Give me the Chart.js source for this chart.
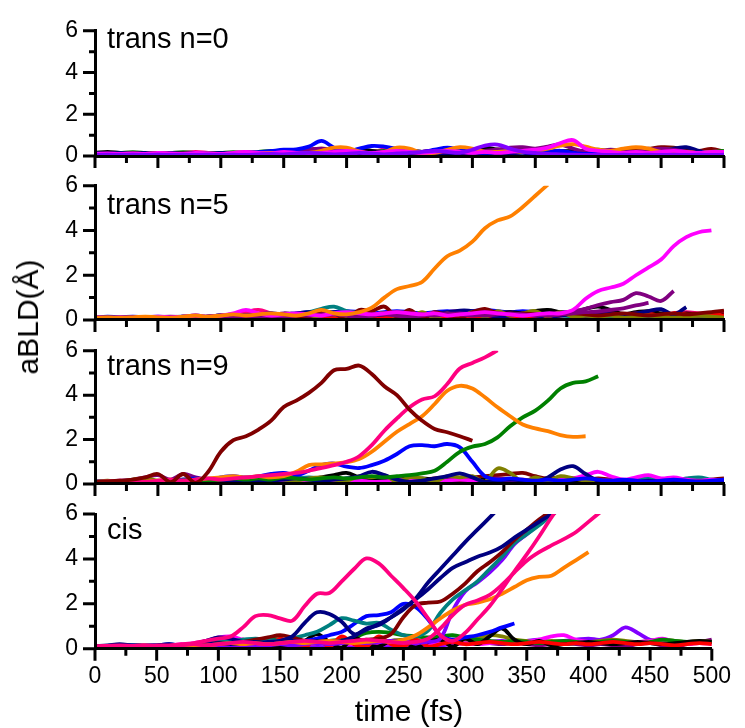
<!DOCTYPE html>
<html>
<head>
<meta charset="utf-8">
<script src="https://cdn.jsdelivr.net/npm/chart.js@4/dist/chart.umd.min.js"></script>
<style>
  html, body { margin: 0; padding: 0; background: #fff; }
  #wrap { position: relative; width: 745px; height: 728px; overflow: hidden;
          font-family: "Liberation Sans", Arial, sans-serif; color: #000; }
  #wrap canvas { position: absolute; left: 0; top: 0; }
  .panel-label { position: absolute; left: 107px; font-size: 29px; line-height: 1; white-space: nowrap; }
  .axis-title { position: absolute; font-size: 30px; line-height: 1; white-space: nowrap; }
</style>
</head>
<body>
<div id="wrap">
  <canvas id="p0" width="745" height="728"></canvas>
  <canvas id="p1" width="745" height="728"></canvas>
  <canvas id="p2" width="745" height="728"></canvas>
  <canvas id="p3" width="745" height="728"></canvas>
  <div class="panel-label" style="top:24px">trans n=0</div>
  <div class="panel-label" style="top:190px">trans n=5</div>
  <div class="panel-label" style="top:351px">trans n=9</div>
  <div class="panel-label" style="top:515px">cis</div>
  <div class="axis-title" style="left:409px; top:696px; transform:translateX(-50%);">time (fs)</div>
  <div class="axis-title" style="left:28px; top:317px; transform:translate(-50%,-50%) rotate(-90deg);">aBLD(Å)</div>
</div>
<script>
// time grid shared by every trajectory (fs)
const times = [0,10,20,30,40,50,60,70,80,90,100,110,120,130,140,150,160,170,180,190,200,
  210,220,230,240,250,260,270,280,290,300,310,320,330,340,350,360,370,380,390,400,
  410,420,430,440,450,460,470,480,490,500];
const xTickStep = 25;
const yTickStep = 1;

// Origin-style palette
const BLACK = '#000000', RED = '#FF0000', BLUE = '#0000FF', MAGENTA = '#FF00FF',
      OLIVE = '#808000', NAVY = '#000080', PURPLE = '#800080', MAROON = '#800000',
      TEAL = '#008080', GREEN = '#008000', ORANGE = '#FF8000', VIOLET = '#8000FF',
      PINK = '#FF0080';

// ---- trans n=0 ----
const n0Blue = [0.12,0.1,0.12,0.1,0.12,0.1,0.12,0.1,0.12,0.14,0.12,0.14,0.16,0.18,0.24,0.3,0.32,0.45,0.72,0.4,0.22,0.35,0.48,0.45,0.35,0.28,0.2,0.3,0.4,0.3,0.2,0.15,0.2,0.25,0.2,0.15,0.2,0.25,0.15,0.1,0.15,0.2,0.15,0.1,0.15,0.2,0.15,0.1,0.15,0.2,0.15];
const n0Orange = [0.08,0.1,0.08,0.06,0.1,0.12,0.1,0.08,0.1,0.12,0.1,0.12,0.1,0.12,0.15,0.12,0.1,0.15,0.25,0.4,0.4,0.22,0.1,0.2,0.4,0.35,0.15,0.15,0.3,0.42,0.35,0.2,0.2,0.25,0.2,0.25,0.35,0.5,0.57,0.45,0.3,0.25,0.35,0.42,0.35,0.2,0.15,0.2,0.15,0.2,0.15];
const n0Magenta = [0.1,0.12,0.1,0.12,0.1,0.15,0.12,0.1,0.15,0.12,0.1,0.15,0.2,0.15,0.12,0.2,0.15,0.12,0.15,0.2,0.25,0.2,0.15,0.2,0.25,0.2,0.15,0.2,0.25,0.2,0.15,0.2,0.15,0.2,0.25,0.3,0.4,0.62,0.76,0.35,0.25,0.2,0.15,0.2,0.15,0.2,0.25,0.2,0.15,0.2,0.2];
const n0Violet = [0.05,0.06,0.05,0.06,0.05,0.06,0.05,0.06,0.05,0.06,0.05,0.06,0.05,0.08,0.1,0.08,0.12,0.15,0.12,0.08,0.1,0.15,0.12,0.08,0.12,0.15,0.2,0.25,0.2,0.15,0.3,0.5,0.55,0.35,0.2,0.15,0.1,0.08,0.06,0.05,0.06,0.05,0.06,0.05,0.06,0.05,0.06,0.05,0.06,0.05,0.06];
const n0Purple = [0.1,0.08,0.1,0.12,0.1,0.08,0.1,0.12,0.1,0.08,0.1,0.12,0.1,0.15,0.2,0.25,0.2,0.3,0.35,0.3,0.25,0.2,0.15,0.2,0.25,0.2,0.15,0.2,0.2,0.25,0.2,0.25,0.3,0.4,0.42,0.35,0.45,0.55,0.35,0.2,0.25,0.3,0.25,0.2,0.3,0.35,0.3,0.2,0.15,0.2,0.15];
const n0Navy = [0.1,0.12,0.1,0.08,0.1,0.12,0.1,0.08,0.1,0.12,0.1,0.08,0.1,0.12,0.1,0.12,0.15,0.12,0.1,0.15,0.12,0.1,0.15,0.2,0.15,0.1,0.12,0.15,0.12,0.1,0.15,0.12,0.1,0.12,0.15,0.1,0.08,0.1,0.12,0.1,0.12,0.1,0.08,0.12,0.1,0.15,0.35,0.42,0.25,0.1,0.12];
const n0Green = [0.15,0.12,0.15,0.18,0.15,0.12,0.15,0.18,0.15,0.12,0.15,0.18,0.15,0.2,0.25,0.2,0.25,0.3,0.2,0.25,0.3,0.25,0.2,0.25,0.3,0.25,0.2,0.25,0.2,0.25,0.3,0.25,0.3,0.35,0.3,0.25,0.2,0.25,0.2,0.25,0.3,0.2,0.25,0.2,0.25,0.3,0.35,0.2,0.15,0.2,0.25];
const n0Black = [0.15,0.2,0.15,0.12,0.15,0.12,0.15,0.12,0.15,0.12,0.15,0.12,0.15,0.12,0.2,0.15,0.2,0.25,0.2,0.15,0.2,0.3,0.25,0.15,0.2,0.15,0.2,0.25,0.3,0.25,0.3,0.4,0.3,0.2,0.25,0.2,0.15,0.2,0.25,0.2,0.15,0.2,0.15,0.2,0.15,0.2,0.25,0.2,0.15,0.2,0.15];
const n0Maroon = [0.1,0.12,0.15,0.12,0.1,0.12,0.15,0.12,0.1,0.12,0.15,0.12,0.1,0.15,0.2,0.25,0.2,0.3,0.35,0.3,0.2,0.25,0.2,0.15,0.2,0.25,0.2,0.15,0.2,0.25,0.2,0.15,0.2,0.15,0.2,0.25,0.2,0.15,0.2,0.25,0.2,0.15,0.2,0.3,0.35,0.42,0.4,0.3,0.25,0.34,0.2];
const n0Pink = [0.12,0.1,0.12,0.15,0.12,0.1,0.12,0.15,0.2,0.15,0.12,0.15,0.2,0.15,0.2,0.25,0.2,0.25,0.3,0.25,0.3,0.25,0.2,0.3,0.25,0.2,0.15,0.2,0.25,0.2,0.25,0.2,0.15,0.2,0.25,0.2,0.15,0.1,0.15,0.2,0.15,0.2,0.15,0.1,0.15,0.2,0.1,0.05,0.1,0.15,0.2];
const n0Red = [0.1,0.15,0.1,0.15,0.1,0.15,0.1,0.15,0.1,0.15,0.1,0.15,0.1,0.15,0.2,0.15,0.2,0.15,0.2,0.25,0.2,0.15,0.2,0.25,0.2,0.15,0.2,0.25,0.2,0.3,0.25,0.2,0.3,0.25,0.2,0.25,0.2,0.25,0.2,0.15,0.2,0.15,0.2,0.15,0.2,0.15,0.2,0.25,0.2,0.15,0.2];

// ---- trans n=5 ----
const n5Orange = [0.1,0.12,0.1,0.12,0.15,0.12,0.1,0.15,0.2,0.15,0.2,0.25,0.2,0.25,0.3,0.25,0.2,0.3,0.45,0.3,0.25,0.35,0.55,1.0,1.38,1.52,1.7,2.3,2.85,3.1,3.5,4.1,4.45,4.63,5.05,5.55,6.05,null,null,null,null,null,null,null,null,null,null,null,null,null,null];
const n5Magenta = [0.12,0.1,0.12,0.1,0.12,0.15,0.12,0.15,0.2,0.15,0.2,0.3,0.45,0.3,0.2,0.25,0.3,0.25,0.2,0.3,0.35,0.3,0.25,0.3,0.35,0.3,0.25,0.3,0.2,0.25,0.3,0.35,0.3,0.25,0.2,0.25,0.3,0.3,0.45,0.95,1.3,1.45,1.62,2.0,2.35,2.7,3.3,3.7,3.92,4.0,null];
const n5PurpleA = [0.1,0.12,0.1,0.12,0.1,0.12,0.15,0.12,0.1,0.15,0.2,0.15,0.2,0.25,0.2,0.3,0.25,0.2,0.25,0.3,0.25,0.2,0.25,0.3,0.35,0.3,0.25,0.2,0.25,0.3,0.25,0.2,0.25,0.3,0.25,0.2,0.25,0.3,0.4,0.5,0.67,0.8,0.9,1.2,1.05,0.85,1.3,null,null,null,null];
const n5PurpleB = [0.1,0.08,0.1,0.12,0.1,0.08,0.1,0.12,0.15,0.12,0.1,0.15,0.2,0.15,0.2,0.15,0.2,0.25,0.2,0.25,0.2,0.15,0.2,0.25,0.2,0.15,0.2,0.25,0.3,0.25,0.2,0.25,0.3,0.25,0.2,0.25,0.2,0.25,0.3,0.35,0.38,0.45,0.52,0.65,0.76,null,null,null,null,null,null];
const n5Navy = [0.08,0.1,0.08,0.1,0.12,0.1,0.12,0.15,0.12,0.15,0.2,0.15,0.2,0.25,0.3,0.25,0.3,0.35,0.3,0.35,0.3,0.25,0.2,0.25,0.3,0.2,0.15,0.25,0.35,0.42,0.4,0.25,0.15,0.2,0.25,0.2,0.15,0.2,0.25,0.2,0.25,0.3,0.25,0.3,0.4,0.48,0.25,0.58,null,null,null];
const n5Maroon = [0.05,0.08,0.05,0.06,0.05,0.08,0.05,0.06,0.08,0.05,0.1,0.06,0.08,0.1,0.08,0.1,0.05,0.15,0.35,0.3,0.02,0.45,0.4,0.6,0.15,0.45,0.07,0.35,0.2,0.08,0.35,0.5,0.3,0.25,0.3,0.25,0.2,0.25,0.3,0.25,0.2,0.25,0.3,0.25,0.2,0.25,0.3,0.25,0.3,0.35,0.42];
const n5Olive = [0.08,0.1,0.08,0.1,0.12,0.1,0.08,0.1,0.12,0.15,0.12,0.1,0.15,0.12,0.1,0.15,0.12,0.1,0.2,0.25,0.15,0.1,0.2,0.3,0.15,0.1,0.35,0.1,0.3,0.1,0.35,0.15,0.4,0.2,0.3,0.4,0.15,0.35,0.15,0.2,0.15,0.2,0.1,0.15,0.2,0.15,0.1,0.15,0.2,0.15,0.1];
const n5Black = [0.1,0.12,0.1,0.12,0.1,0.12,0.1,0.15,0.12,0.15,0.2,0.15,0.2,0.15,0.2,0.25,0.2,0.25,0.3,0.25,0.3,0.25,0.2,0.25,0.3,0.25,0.3,0.25,0.3,0.35,0.3,0.25,0.3,0.35,0.3,0.4,0.45,0.35,0.3,0.5,0.6,0.45,0.27,0.35,0.4,0.3,0.25,0.3,0.25,0.2,0.25];
const n5Red = [0.05,0.08,0.05,0.08,0.05,0.08,0.1,0.08,0.1,0.12,0.1,0.12,0.1,0.12,0.15,0.12,0.15,0.12,0.15,0.1,0.15,0.12,0.15,0.1,0.15,0.12,0.15,0.1,0.15,0.12,0.15,0.1,0.15,0.12,0.15,0.12,0.15,0.2,0.25,0.2,0.28,0.3,0.22,0.3,0.28,0.2,0.3,0.25,0.2,0.28,0.2];
const n5Teal = [0.1,0.12,0.1,0.12,0.1,0.12,0.1,0.12,0.15,0.12,0.15,0.2,0.15,0.2,0.25,0.2,0.25,0.35,0.5,0.6,0.4,0.3,0.25,0.3,0.35,0.3,0.25,0.3,0.25,0.2,0.25,0.2,0.15,0.2,0.15,0.2,0.15,0.2,0.15,0.1,0.15,0.1,0.15,0.1,0.15,0.12,0.1,0.15,0.1,0.15,0.12];
const n5Blue = [0.12,0.15,0.12,0.15,0.12,0.15,0.12,0.15,0.2,0.15,0.2,0.25,0.2,0.25,0.3,0.25,0.3,0.35,0.3,0.35,0.4,0.35,0.3,0.35,0.4,0.35,0.3,0.35,0.4,0.35,0.4,0.45,0.4,0.35,0.4,0.35,0.3,0.35,0.3,0.25,0.3,0.25,0.2,0.25,0.2,0.25,0.2,0.15,0.2,0.15,0.2];
const n5Pink = [0.1,0.08,0.1,0.12,0.1,0.08,0.1,0.12,0.1,0.15,0.12,0.2,0.35,0.45,0.3,0.2,0.15,0.2,0.25,0.2,0.15,0.2,0.25,0.3,0.25,0.2,0.25,0.3,0.35,0.4,0.3,0.25,0.3,0.35,0.3,0.25,0.2,0.3,0.35,0.3,0.25,0.2,0.25,0.3,0.25,0.2,0.3,0.35,0.3,0.25,0.3];

// ---- trans n=9 ----
const n9Maroon = [0.1,0.12,0.15,0.2,0.3,0.45,0.08,0.45,0.05,0.55,1.45,1.97,2.15,2.45,2.85,3.47,3.75,4.1,4.55,5.12,5.18,5.33,4.95,4.4,4.0,3.35,2.85,2.48,2.33,2.15,1.95,null,null,null,null,null,null,null,null,null,null,null,null,null,null,null,null,null,null,null,null];
const n9Pink = [0.1,0.12,0.15,0.12,0.1,0.15,0.2,0.15,0.2,0.25,0.2,0.25,0.3,0.35,0.4,0.45,0.5,0.6,0.72,0.85,1.0,1.25,1.75,2.4,2.95,3.45,3.8,3.95,4.5,5.2,5.45,5.7,6.02,null,null,null,null,null,null,null,null,null,null,null,null,null,null,null,null,null,null];
const n9Orange = [0.1,0.12,0.1,0.15,0.12,0.15,0.2,0.15,0.2,0.25,0.3,0.35,0.3,0.35,0.3,0.35,0.55,0.85,0.88,0.93,0.98,1.12,1.45,1.9,2.35,2.7,3.05,3.6,4.2,4.42,4.3,3.9,3.45,3.05,2.68,2.5,2.38,2.2,2.12,2.15,null,null,null,null,null,null,null,null,null,null,null];
const n9Green = [0.1,0.12,0.1,0.12,0.15,0.12,0.1,0.15,0.2,0.15,0.2,0.25,0.2,0.25,0.2,0.3,0.25,0.2,0.25,0.3,0.25,0.3,0.35,0.3,0.35,0.4,0.48,0.6,1.0,1.45,1.68,1.8,2.1,2.6,3.0,3.3,3.75,4.3,4.55,4.62,4.85,null,null,null,null,null,null,null,null,null,null];
const n9Blue = [0.12,0.1,0.12,0.15,0.12,0.1,0.15,0.2,0.25,0.2,0.3,0.35,0.3,0.35,0.45,0.5,0.4,0.6,0.85,0.92,0.78,0.72,0.85,1.05,1.35,1.7,1.75,1.7,1.8,1.65,1.0,0.35,0.2,0.25,0.2,0.15,0.2,0.15,0.2,0.25,0.2,0.15,0.2,0.15,0.1,0.15,0.2,0.15,0.1,0.15,0.2];
const n9Navy = [0.1,0.08,0.1,0.12,0.1,0.08,0.1,0.12,0.15,0.12,0.1,0.15,0.12,0.1,0.15,0.2,0.25,0.2,0.15,0.2,0.25,0.35,0.55,0.4,0.2,0.1,0.15,0.25,0.35,0.48,0.3,0.1,0.15,0.2,0.15,0.1,0.3,0.65,0.8,0.45,0.15,0.1,0.15,0.1,0.15,0.1,0.12,0.1,0.12,0.1,0.12];
const n9Olive = [0.1,0.15,0.1,0.2,0.25,0.15,0.1,0.2,0.15,0.1,0.2,0.25,0.15,0.2,0.3,0.2,0.15,0.25,0.3,0.2,0.15,0.35,0.3,0.4,0.1,0.3,0.25,0.1,0.35,0.3,0.35,0.1,0.7,0.5,0.1,0.3,0.15,0.35,0.25,0.15,0.1,0.15,0.1,0.12,0.1,0.12,0.1,0.12,0.1,0.12,0.1];
const n9Magenta = [0.05,0.08,0.05,0.1,0.08,0.05,0.1,0.08,0.1,0.12,0.1,0.08,0.1,0.12,0.1,0.15,0.1,0.12,0.15,0.1,0.12,0.15,0.1,0.12,0.15,0.2,0.15,0.1,0.15,0.2,0.15,0.1,0.15,0.2,0.15,0.1,0.15,0.2,0.25,0.4,0.55,0.35,0.2,0.3,0.4,0.25,0.3,0.2,0.15,0.2,0.15];
const n9Black = [0.08,0.1,0.08,0.1,0.08,0.1,0.12,0.1,0.12,0.1,0.12,0.15,0.12,0.1,0.15,0.12,0.15,0.2,0.3,0.4,0.5,0.3,0.15,0.2,0.15,0.2,0.25,0.2,0.15,0.2,0.15,0.2,0.15,0.1,0.15,0.1,0.15,0.1,0.15,0.2,0.15,0.1,0.15,0.1,0.12,0.1,0.12,0.1,0.12,0.1,0.12];
const n9Red = [0.05,0.08,0.1,0.08,0.05,0.08,0.1,0.08,0.05,0.08,0.1,0.12,0.1,0.08,0.1,0.12,0.15,0.12,0.1,0.15,0.12,0.1,0.15,0.12,0.1,0.15,0.2,0.15,0.1,0.15,0.12,0.15,0.1,0.15,0.2,0.15,0.1,0.15,0.2,0.15,0.2,0.1,0.15,0.1,0.05,0.1,0.15,0.1,0.12,0.1,0.15];
const n9Teal = [0.1,0.12,0.1,0.15,0.12,0.1,0.15,0.2,0.15,0.2,0.25,0.3,0.25,0.3,0.25,0.2,0.25,0.3,0.25,0.2,0.25,0.2,0.15,0.2,0.15,0.1,0.15,0.2,0.15,0.1,0.15,0.2,0.15,0.1,0.15,0.2,0.15,0.1,0.15,0.2,0.15,0.1,0.15,0.2,0.25,0.2,0.15,0.25,0.3,0.2,0.15];
const n9Purple = [0.1,0.12,0.15,0.2,0.3,0.4,0.2,0.45,0.3,0.2,0.25,0.3,0.25,0.2,0.25,0.3,0.25,0.2,0.25,0.2,0.15,0.2,0.25,0.2,0.15,0.2,0.15,0.1,0.15,0.2,0.15,0.2,0.25,0.2,0.15,0.2,0.15,0.1,0.15,0.1,0.15,0.2,0.15,0.1,0.15,0.1,0.15,0.1,0.12,0.1,0.12];
const n9MaroonB = [0.05,0.08,0.05,0.08,0.1,0.08,0.05,0.08,0.1,0.12,0.1,0.12,0.15,0.12,0.1,0.15,0.12,0.15,0.2,0.15,0.2,0.25,0.2,0.15,0.2,0.25,0.2,0.25,0.3,0.25,0.3,0.35,0.4,0.45,0.5,0.35,0.25,0.3,0.25,0.2,0.25,0.2,0.15,0.2,0.15,0.2,0.15,0.2,0.15,0.2,0.25];

// ---- cis ----
const cisPinkA = [0.1,0.12,0.1,0.12,0.15,0.12,0.15,0.2,0.25,0.35,0.45,0.54,0.95,1.45,1.5,1.35,1.25,1.9,2.45,2.48,3.0,3.55,4.02,3.8,3.25,2.7,2.1,1.35,0.6,0.35,0.7,1.3,1.9,2.65,3.45,4.2,5.0,5.85,6.6,null,null,null,null,null,null,null,null,null,null,null,null];
const cisPinkB = [0.1,0.12,0.15,0.12,0.1,0.15,0.12,0.15,0.2,0.15,0.2,0.25,0.3,0.25,0.2,0.25,0.3,0.35,0.3,0.25,0.3,0.35,0.4,0.35,0.3,0.25,0.3,0.45,0.9,1.5,1.95,2.15,2.4,2.85,3.4,3.92,4.3,4.6,4.88,5.2,5.65,6.1,null,null,null,null,null,null,null,null,null];
const cisNavyA = [0.12,0.15,0.2,0.15,0.12,0.15,0.2,0.15,0.2,0.35,0.5,0.45,0.3,0.25,0.3,0.35,0.55,1.15,1.62,1.55,1.2,0.65,0.85,1.1,1.4,1.75,2.25,2.95,3.55,4.15,4.75,5.3,5.85,6.4,null,null,null,null,null,null,null,null,null,null,null,null,null,null,null,null,null];
const cisNavyB = [0.1,0.08,0.1,0.12,0.1,0.12,0.15,0.12,0.15,0.2,0.25,0.2,0.25,0.3,0.25,0.3,0.35,0.3,0.35,0.3,0.35,0.55,0.9,1.05,1.4,1.8,2.2,2.65,3.15,3.6,3.85,4.1,4.28,4.55,4.95,5.3,5.65,6.0,6.4,null,null,null,null,null,null,null,null,null,null,null,null];
const cisMaroon = [0.1,0.12,0.1,0.12,0.15,0.12,0.15,0.12,0.15,0.2,0.25,0.2,0.3,0.4,0.5,0.6,0.5,0.35,0.3,0.35,0.3,0.35,0.4,0.45,0.65,1.4,1.95,2.05,2.1,2.45,2.9,3.45,3.85,4.3,4.85,5.3,5.75,6.15,null,null,null,null,null,null,null,null,null,null,null,null,null];
const cisTeal = [0.1,0.12,0.1,0.12,0.1,0.15,0.12,0.15,0.2,0.25,0.3,0.35,0.4,0.45,0.4,0.35,0.45,0.6,0.75,1.05,1.36,1.25,1.12,1.15,0.85,0.6,0.55,0.8,1.6,2.2,2.6,3.0,3.55,4.1,4.7,5.1,5.5,5.95,6.3,null,null,null,null,null,null,null,null,null,null,null,null];
const cisViolet = [0.05,0.08,0.05,0.08,0.1,0.08,0.05,0.08,0.1,0.12,0.1,0.12,0.15,0.12,0.15,0.2,0.15,0.2,0.25,0.2,0.25,0.3,0.25,0.3,0.35,0.3,0.25,0.3,0.45,1.7,2.55,2.95,3.4,3.95,4.65,5.1,5.55,6.05,null,null,null,null,null,null,null,null,null,null,null,null,null];
const cisBlue = [0.12,0.1,0.12,0.15,0.12,0.15,0.2,0.15,0.2,0.25,0.3,0.25,0.3,0.35,0.3,0.35,0.3,0.35,0.45,0.6,0.75,1.1,1.45,1.5,1.62,2.0,1.85,1.3,0.6,0.4,0.5,0.6,0.75,0.95,1.12,null,null,null,null,null,null,null,null,null,null,null,null,null,null,null,null];
const cisOrange = [0.08,0.1,0.12,0.1,0.08,0.1,0.12,0.15,0.12,0.15,0.2,0.25,0.2,0.25,0.2,0.25,0.3,0.25,0.3,0.35,0.3,0.25,0.3,0.35,0.3,0.4,0.6,0.95,1.35,1.7,1.95,2.05,2.2,2.45,2.75,3.05,3.2,3.25,3.6,3.95,4.3,null,null,null,null,null,null,null,null,null,null];
const cisRed = [0.05,0.08,0.1,0.08,0.1,0.12,0.1,0.12,0.1,0.15,0.1,0.2,0.4,0.15,0.1,0.45,0.2,0.05,0.45,0.1,0.55,0.2,0.1,0.55,0.2,0.1,0.4,0.1,0.2,0.3,0.2,0.25,0.3,0.25,0.2,0.25,0.3,0.25,0.2,0.25,0.2,0.25,0.3,0.25,0.2,0.25,0.2,0.15,0.2,0.25,0.2];
const cisBlack = [0.05,0.08,0.1,0.12,0.1,0.12,0.1,0.08,0.1,0.12,0.1,0.15,0.1,0.12,0.15,0.1,0.2,0.35,0.65,0.3,0.05,0.5,0.2,0.1,0.35,0.3,0.05,0.3,0.4,0.1,0.45,0.2,0.55,0.9,0.4,0.2,0.35,0.15,0.2,0.25,0.3,0.25,0.2,0.25,0.3,0.25,0.2,0.25,0.3,0.35,0.3];
const cisGreen = [0.1,0.12,0.1,0.15,0.12,0.1,0.15,0.12,0.15,0.2,0.25,0.3,0.35,0.4,0.45,0.4,0.3,0.25,0.3,0.35,0.4,0.5,0.7,0.75,0.7,0.6,0.55,0.5,0.55,0.6,0.5,0.4,0.35,0.3,0.35,0.3,0.25,0.3,0.35,0.3,0.25,0.3,0.35,0.3,0.25,0.3,0.4,0.35,0.3,0.25,0.3];
const cisVioletB = [0.05,0.06,0.05,0.06,0.05,0.06,0.05,0.06,0.05,0.08,0.05,0.06,0.08,0.06,0.05,0.08,0.06,0.05,0.08,0.06,0.05,0.08,0.1,0.08,0.1,0.12,0.1,0.12,0.15,0.2,0.25,0.2,0.3,0.35,0.3,0.35,0.4,0.3,0.35,0.4,0.45,0.4,0.6,0.95,0.7,0.4,0.35,0.3,0.25,0.3,0.35];
const cisPurple = [0.1,0.12,0.1,0.12,0.1,0.12,0.1,0.12,0.15,0.12,0.15,0.2,0.15,0.2,0.15,0.2,0.25,0.2,0.25,0.3,0.25,0.2,0.25,0.3,0.25,0.2,0.25,0.3,0.35,0.3,0.25,0.3,0.25,0.2,0.25,0.2,0.15,0.2,0.25,0.2,0.15,0.2,0.15,0.1,0.2,0.25,0.15,0.1,0.2,0.3,0.4];
const cisOlive = [0.1,0.12,0.1,0.12,0.1,0.12,0.15,0.12,0.15,0.2,0.15,0.2,0.25,0.2,0.25,0.3,0.25,0.3,0.35,0.3,0.25,0.3,0.35,0.3,0.35,0.4,0.35,0.3,0.35,0.4,0.35,0.45,0.6,0.55,0.4,0.35,0.3,0.35,0.3,0.35,0.3,0.35,0.4,0.35,0.3,0.35,0.4,0.35,0.3,0.35,0.3];
const cisMagenta = [0.1,0.12,0.1,0.12,0.15,0.12,0.15,0.2,0.25,0.35,0.5,0.55,0.4,0.3,0.25,0.3,0.25,0.2,0.25,0.3,0.25,0.2,0.25,0.2,0.25,0.3,0.25,0.2,0.25,0.2,0.25,0.2,0.25,0.3,0.25,0.3,0.4,0.55,0.6,0.4,0.3,0.25,0.3,0.25,0.3,0.35,0.45,0.3,0.2,0.25,0.2];

// panel layout (chart-area edges in page pixels); first series listed is drawn on top
const panels = [
  { canvas: 'p0', top: 22.3, bottom: 156, labels: false, series: [
    [n0Violet, VIOLET], [n0Magenta, MAGENTA], [n0Orange, ORANGE], [n0Blue, BLUE], [n0Purple, PURPLE],
    [n0Navy, NAVY], [n0Black, BLACK], [n0Green, GREEN], [n0Maroon, MAROON], [n0Pink, PINK], [n0Red, RED] ] },
  { canvas: 'p1', top: 185.7, bottom: 320, labels: false, series: [
    [n5Orange, ORANGE], [n5Magenta, MAGENTA], [n5PurpleA, PURPLE], [n5PurpleB, PURPLE], [n5Maroon, MAROON],
    [n5Olive, OLIVE], [n5Navy, NAVY], [n5Red, RED], [n5Black, BLACK], [n5Teal, TEAL], [n5Blue, BLUE], [n5Pink, PINK] ] },
  { canvas: 'p2', top: 350.7, bottom: 484, labels: false, series: [
    [n9Maroon, MAROON], [n9Pink, PINK], [n9Orange, ORANGE], [n9Green, GREEN], [n9Blue, BLUE], [n9Navy, NAVY],
    [n9Olive, OLIVE], [n9Magenta, MAGENTA], [n9Black, BLACK], [n9Red, RED], [n9Teal, TEAL], [n9Purple, PURPLE], [n9MaroonB, MAROON] ] },
  { canvas: 'p3', top: 514, bottom: 648.7, labels: true, series: [
    [cisPinkA, PINK], [cisPinkB, PINK], [cisOrange, ORANGE], [cisNavyA, NAVY], [cisNavyB, NAVY], [cisMaroon, MAROON],
    [cisTeal, TEAL], [cisViolet, VIOLET], [cisBlue, BLUE], [cisRed, RED], [cisBlack, BLACK], [cisGreen, GREEN],
    [cisMagenta, MAGENTA], [cisOlive, OLIVE], [cisPurple, PURPLE], [cisVioletB, VIOLET] ] }
];

const PAGE_W = 745, PAGE_H = 728;
const AREA_LEFT = 95, AREA_RIGHT = 724;

// outward tick marks: long at labelled values, short in between
const tickMarks = {
  id: 'tickMarks',
  afterDraw(chart) {
    const { ctx, chartArea: a, scales } = chart;
    ctx.save();
    ctx.strokeStyle = '#000';
    ctx.lineWidth = 3;
    ctx.beginPath();
    scales.x.ticks.forEach(t => {
      const px = scales.x.getPixelForValue(t.value);
      const len = t.value % 50 === 0 ? 12 : 7;
      ctx.moveTo(px, a.bottom);
      ctx.lineTo(px, a.bottom + len);
    });
    scales.y.ticks.forEach(t => {
      const py = scales.y.getPixelForValue(t.value);
      const len = t.value % 2 === 0 ? 12 : 6;
      ctx.moveTo(a.left, py);
      ctx.lineTo(a.left - len, py);
    });
    ctx.stroke();
    ctx.restore();
  }
};

const tickFont = { family: '"Liberation Sans", Arial, sans-serif', size: 23 };

panels.forEach(p => {
  const xAxisH = p.labels ? 40 : 20;
  const datasets = p.series.map(([vals, color]) => ({
    data: times.map((t, i) => ({ x: t, y: vals[i] })),
    borderColor: color,
    borderWidth: 3.8,
    pointRadius: 0,
    tension: 0.35,
    fill: false,
    spanGaps: false
  }));
  new Chart(document.getElementById(p.canvas), {
    type: 'line',
    data: { datasets },
    plugins: [tickMarks],
    options: {
      responsive: false,
      devicePixelRatio: 1,
      animation: false,
      events: [],
      layout: { padding: { left: 0, right: PAGE_W - AREA_RIGHT, top: p.top, bottom: PAGE_H - p.bottom - xAxisH } },
      plugins: { legend: { display: false }, tooltip: { enabled: false } },
      scales: {
        x: {
          type: 'linear', min: 0, max: 500,
          afterFit: s => { s.height = xAxisH; },
          grid: { display: false, drawTicks: false },
          border: { display: true, color: '#000', width: 3, z: 1 },
          ticks: {
            display: p.labels, stepSize: xTickStep, autoSkip: false, maxRotation: 0, minRotation: 0,
            color: '#000', font: tickFont, padding: 14,
            callback: v => (v % 50 === 0 ? String(v) : '')
          }
        },
        y: {
          min: 0, max: 6,
          afterFit: s => { s.width = AREA_LEFT; },
          grid: { display: false, drawTicks: false },
          border: { display: true, color: '#000', width: 3, z: 1 },
          ticks: {
            stepSize: yTickStep, autoSkip: false, color: '#000', font: tickFont, padding: 17,
            callback: v => (v % 2 === 0 ? String(v) : '')
          }
        }
      }
    }
  });
});
</script>
</body>
</html>
